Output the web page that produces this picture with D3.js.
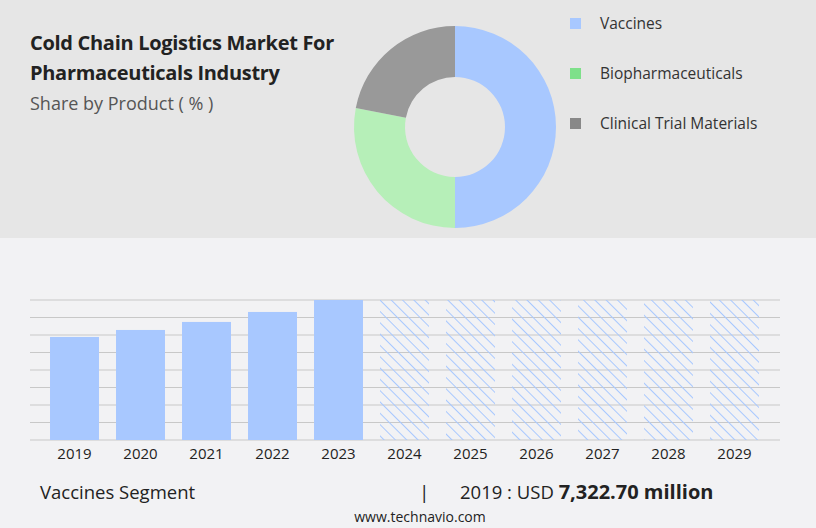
<!DOCTYPE html>
<html><head><meta charset="utf-8">
<script src="https://cdn.jsdelivr.net/npm/d3@7"></script>
<style>body{margin:0;}svg{display:block;font-family:"Open Sans",sans-serif;}</style>
</head><body>
<script>
// donut data
var segments = ["Vaccines", "Biopharmaceuticals", "Clinical Trial Materials"];
var shares = [50, 28, 22];
var segColors = ["#a8c8ff", "#b6efb8", "#999999"];
var legendColors = ["#a8c8ff", "#7ee08a", "#888888"];
// bar data
var years = ["2019","2020","2021","2022","2023","2024","2025","2026","2027","2028","2029"];
var values = [7322.7, 7820, 8390, 9100, 9950, 9950, 9950, 9950, 9950, 9950, 9950];
var forecast = [false,false,false,false,false,true,true,true,true,true,true];

var svg = d3.select("body").append("svg").attr("width", 816).attr("height", 528);
svg.append("rect").attr("width", 816).attr("height", 528).attr("fill", "#f2f2f4");
svg.append("rect").attr("width", 816).attr("height", 238).attr("fill", "#e6e6e6");

var defs = svg.append("defs");
var pat = defs.append("pattern").attr("id", "hatch").attr("patternUnits", "userSpaceOnUse")
  .attr("width", 8).attr("height", 8).attr("patternTransform", "rotate(-45)");
pat.append("line").attr("x1", 0).attr("y1", 0).attr("x2", 0).attr("y2", 8)
  .attr("stroke", "#a8c8ff").attr("stroke-width", 2);

// titles
svg.append("text").attr("x", 30).attr("y", 50).attr("font-size", 20).attr("font-weight", 700)
  .attr("fill", "#222").attr("letter-spacing", -0.3).text("Cold Chain Logistics Market For");
svg.append("text").attr("x", 30).attr("y", 80).attr("font-size", 20).attr("font-weight", 700)
  .attr("fill", "#222").attr("letter-spacing", -0.3).text("Pharmaceuticals Industry");
svg.append("text").attr("x", 30).attr("y", 110).attr("font-size", 18)
  .attr("fill", "#555").text("Share by Product ( % )");

// donut
var pie = d3.pie().sort(null).value(function (d) { return d; });
var arc = d3.arc().innerRadius(50).outerRadius(101);
svg.append("g").attr("transform", "translate(455,127)")
  .selectAll("path").data(pie(shares)).join("path")
  .attr("d", arc).attr("fill", function (d, i) { return segColors[i]; });

// legend
var lg = svg.append("g").selectAll("g").data(segments).join("g")
  .attr("transform", function (d, i) { return "translate(570," + (24 + i * 50) + ")"; });
lg.append("rect").attr("x", 0).attr("y", -6).attr("width", 11).attr("height", 11)
  .attr("fill", function (d, i) { return legendColors[i]; });
lg.append("text").attr("x", 30).attr("y", 5).attr("font-size", 15.5).attr("fill", "#333")
  .text(function (d) { return d; });

// bars
var x = d3.scaleBand().domain(years).range([41.5, 767.5]).paddingInner(0.258).paddingOuter(0.129);
var y = d3.scaleLinear().domain([0, 9950]).range([440, 300]);
var g = svg.append("g");
g.selectAll("line.grid").data(d3.range(0, 9)).join("line")
  .attr("x1", 30).attr("x2", 780)
  .attr("y1", function (d) { return 440 - d * 17.5; })
  .attr("y2", function (d) { return 440 - d * 17.5; })
  .attr("stroke", "#c8c8c8").attr("stroke-width", 1);
g.selectAll("rect").data(years).join("rect")
  .attr("x", function (d) { return x(d); })
  .attr("width", x.bandwidth())
  .attr("y", function (d, i) { return y(values[i]); })
  .attr("height", function (d, i) { return 440 - y(values[i]); })
  .attr("fill", function (d, i) { return forecast[i] ? "url(#hatch)" : "#a8c8ff"; });
var xAxis = svg.append("g").attr("transform", "translate(0,440)")
  .call(d3.axisBottom(x).tickSize(0).tickPadding(8));
xAxis.select(".domain").remove();
xAxis.selectAll("text").attr("font-size", 15).attr("fill", "#222").attr("font-family", "Open Sans");

// footer
svg.append("text").attr("x", 40).attr("y", 499).attr("font-size", 18.5).attr("fill", "#222").text("Vaccines Segment");
svg.append("text").attr("x", 419).attr("y", 499).attr("font-size", 19).attr("fill", "#222").text("|");
var ft = svg.append("text").attr("x", 460).attr("y", 499).attr("font-size", 18.5).attr("fill", "#222");
ft.append("tspan").text("2019 : USD ");
ft.append("tspan").attr("font-weight", 700).attr("font-size", 20).text("7,322.70 million");
svg.append("text").attr("x", 420).attr("y", 522).attr("text-anchor", "middle").attr("font-size", 14)
  .attr("fill", "#222").text("www.technavio.com");
</script>
</body></html>
